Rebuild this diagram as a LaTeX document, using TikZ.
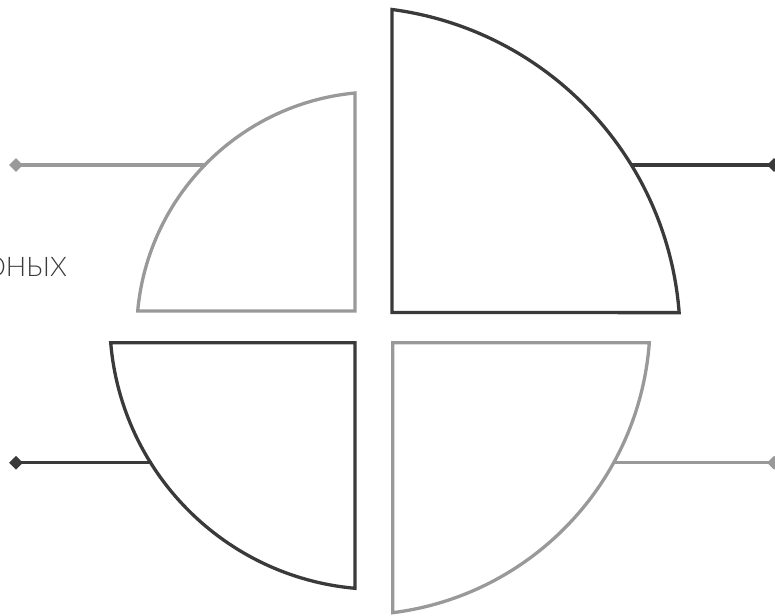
\documentclass[tikz,border=0pt]{standalone}
\usepackage{fontspec}
\setmainfont{Lato}[UprightFont=* Light]
\usetikzlibrary{shapes.geometric}
\definecolor{darkline}{HTML}{3A3A3A}
\definecolor{greyline}{HTML}{999999}
\tikzset{
  darkpiece/.style={draw=darkline, line width=3.3pt},
  greypiece/.style={draw=greyline, line width=3.3pt},
  tipdot/.style={diamond, inner sep=0pt, minimum size=14pt},
}
\begin{document}
\begin{tikzpicture}[x=1pt, y=1pt]
\useasboundingbox (0,0) rectangle (775,615);
% quarters
\draw[darkpiece] (392,302.5) -- (392,605.5) arc[start angle=82.5, end angle=4.4, radius=331.4] -- cycle;
\draw[greypiece] (355,304) -- (355,522) arc[start angle=95.4, end angle=174.8, radius=241] -- cycle;
\draw[darkpiece] (355,272.3) -- (110.7,272.3) arc[start angle=184.8, end angle=264.9, radius=269.2] -- cycle;
\draw[greypiece] (392.7,272.3) -- (649.3,272.3) arc[start angle=-4.25, end angle=-82.83, radius=294.1] -- cycle;
% points on the arcs
\coordinate (tr) at (630.5,450);
\coordinate (tl) at (206,450);
\coordinate (bl) at (152,152.3);
\coordinate (br) at (612.5,152.3);
% end marks
\node[tipdot, fill=darkline] (trdot) at (774,450) {};
\node[tipdot, fill=greyline] (tldot) at (16,450) {};
\node[tipdot, fill=darkline] (bldot) at (16,152.3) {};
\node[tipdot, fill=greyline] (brdot) at (774,152.3) {};
\draw[darkline, line width=3.6pt] (tr) -- (trdot.center);
\draw[greyline, line width=3.6pt] (tl) -- (tldot.center);
\draw[darkline, line width=3.6pt] (bl) -- (bldot.center);
\draw[greyline, line width=3.6pt] (br) -- (brdot.center);
% label
\node[anchor=base east, inner sep=0pt, font=\fontsize{27}{32}\selectfont, text=darkline] (word) at (67,338) {ОНЫХ};
\end{tikzpicture}
\end{document}
